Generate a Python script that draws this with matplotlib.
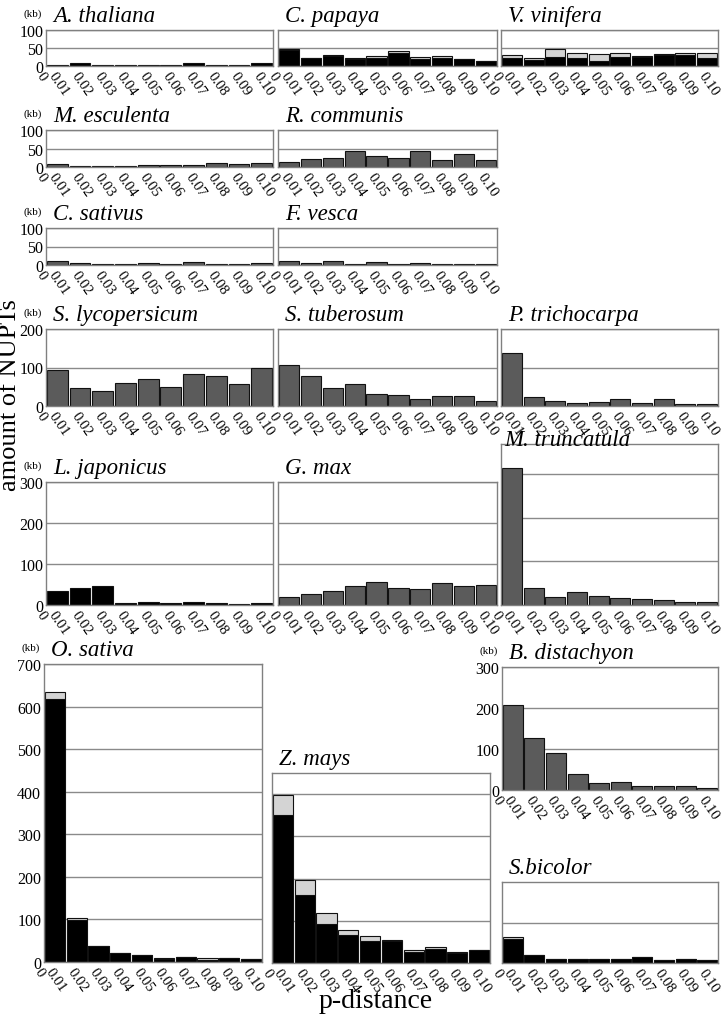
import matplotlib
matplotlib.use('Agg')
import matplotlib.pyplot as plt
import matplotlib.transforms as mtrans

plt.rcParams['font.family'] = ['Liberation Serif', 'DejaVu Serif']

W, H = 724, 1020
edges = ['0', '0.01', '0.02', '0.03', '0.04', '0.05', '0.06', '0.07', '0.08', '0.09', '0.10']

# kb of NUPTs per p-distance bin (black = lower part, grey = upper part)
thaliana = [4, 7, 4, 4, 4, 4, 7, 4, 4, 7]
papaya_b = [44, 23, 28, 20, 23, 35, 20, 23, 20, 14]
papaya_g = [4, 0, 3, 2, 5, 7, 5, 5, 0, 0]
vinifera_b = [23, 17, 25, 23, 14, 26, 24, 31, 31, 21]
vinifera_g = [8, 5, 22, 13, 18, 10, 5, 2, 5, 15]
esculenta = [7, 3, 3, 3, 6, 6, 6, 12, 9, 12]
communis = [14, 22, 25, 42, 29, 25, 42, 19, 34, 19]
sativus = [10, 6, 3, 3, 6, 3, 9, 3, 3, 6]
vesca = [12, 6, 12, 3, 9, 3, 6, 3, 3, 3]
lycopersicum = [93, 46, 38, 61, 69, 49, 84, 79, 58, 98]
tuberosum = [107, 78, 46, 58, 31, 28, 17, 27, 27, 13]
trichocarpa = [138, 24, 12, 8, 11, 17, 8, 19, 5, 5]
japonicus = [35, 42, 47, 6, 8, 6, 8, 6, 3, 6]
gmax = [19, 27, 34, 46, 56, 42, 39, 54, 46, 49]
truncatula = [315, 38, 18, 29, 20, 16, 13, 11, 7, 7]
sativa_b = [618, 98, 38, 20, 16, 6, 12, 5, 10, 7]
sativa_g = [16, 6, 0, 0, 0, 4, 0, 5, 0, 0]
mays_b = [350, 161, 93, 67, 53, 52, 27, 34, 23, 31]
mays_g = [48, 35, 25, 11, 12, 3, 4, 4, 4, 0]
distachyon = [207, 127, 91, 39, 17, 19, 10, 10, 10, 6]
bicolor_b = [59, 19, 9, 11, 9, 9, 14, 7, 9, 7]
bicolor_g = [4, 0, 0, 0, 0, 0, 0, 0, 0, 0]

BLACK = '#000000'
DARK = '#5b5b5b'
LIGHT = '#d4d4d4'

C1 = (46, 273)
C2 = (278, 497)
C3 = (501, 718)

# title, (left, right), top, bottom, ymax, grid values, tick labels?, layers
panels = [
    ('A. thaliana', C1, 31, 67, 100, [50, 100], True, [(thaliana, BLACK)]),
    ('C. papaya', C2, 31, 67, 100, [50, 100], False, [(papaya_b, BLACK), (papaya_g, LIGHT)]),
    ('V. vinifera', C3, 31, 67, 100, [50, 100], False, [(vinifera_b, BLACK), (vinifera_g, LIGHT)]),
    ('M. esculenta', C1, 131, 168, 100, [50, 100], True, [(esculenta, DARK)]),
    ('R. communis', C2, 131, 168, 100, [50, 100], False, [(communis, DARK)]),
    ('C. sativus', C1, 229, 266, 100, [50, 100], True, [(sativus, DARK)]),
    ('F. vesca', C2, 229, 266, 100, [50, 100], False, [(vesca, DARK)]),
    ('S. lycopersicum', C1, 330, 407, 200, [100, 200], True, [(lycopersicum, DARK)]),
    ('S. tuberosum', C2, 330, 407, 200, [100, 200], False, [(tuberosum, DARK)]),
    ('P. trichocarpa', C3, 330, 407, 200, [100, 200], False, [(trichocarpa, DARK)]),
    ('L. japonicus', C1, 483, 606, 300, [100, 200, 300], True, [(japonicus, BLACK)]),
    ('G. max', C2, 483, 606, 300, [100, 200, 300], False, [(gmax, DARK)]),
    ('M. truncatula', C3, 445, 606, 370, [100, 200, 300], False, [(truncatula, DARK)]),
    ('O. sativa', (44, 262), 665, 963, 700, [100, 200, 300, 400, 500, 600, 700], True,
     [(sativa_b, BLACK), (sativa_g, LIGHT)]),
    ('Z. mays', (272, 490), 774, 964, 450, [100, 200, 300, 400], False,
     [(mays_b, BLACK), (mays_g, LIGHT)]),
    ('B. distachyon', (502, 718), 668, 791, 300, [100, 200, 300], True, [(distachyon, DARK)]),
    ('S.bicolor', (502, 718), 883, 964, 200, [100], False, [(bicolor_b, BLACK), (bicolor_g, LIGHT)]),
]

fig = plt.figure(figsize=(W / 100, H / 100), dpi=100)
shift = mtrans.ScaledTranslation(3 / 100, 0, fig.dpi_scale_trans)

for title, (l, r), t, b, ymax, grid, labels, layers in panels:
    ax = fig.add_axes([l / W, 1 - b / H, (r - l) / W, (b - t) / H])
    base = [0] * 10
    for vals, col in layers:
        ax.bar([i + 0.04 for i in range(10)], vals, width=0.92, bottom=base, align='edge',
               color=col, edgecolor='#111111', linewidth=0.8, zorder=2)
        base = [p + v for p, v in zip(base, vals)]
    ax.set_xlim(0, 10)
    ax.set_ylim(0, ymax)
    ax.set_yticks([0] + grid)
    ax.yaxis.grid(True, color='#8a8a8a', linewidth=1.0)
    ax.set_axisbelow(True)
    for s in ax.spines.values():
        s.set_color('#808080')
        s.set_linewidth(1.0)
    ax.tick_params(length=0, pad=2)
    if labels:
        ax.set_yticklabels([str(v) for v in [0] + grid], fontsize=11.5)
        fig.text((l - 23) / W, 1 - (t - 17) / H, '(kb)', fontsize=8, va='center', ha='left')
    else:
        ax.set_yticklabels([])
    ax.set_xticks(range(11))
    ax.set_xticklabels(edges, rotation=-55, ha='right', va='top', fontsize=10.5)
    for lab in ax.get_xticklabels():
        lab.set_transform(lab.get_transform() + shift)
    if title == 'M. truncatula':
        ax.annotate(title, xy=(0, 1), xycoords='axes fraction', xytext=(2, -1),
                    textcoords='offset points', fontsize=16.5, style='italic',
                    ha='left', va='baseline')
    else:
        ax.annotate(title, xy=(0, 1), xycoords='axes fraction', xytext=(5, 3),
                    textcoords='offset points', fontsize=16.5, style='italic',
                    ha='left', va='bottom')

fig.text(10 / W, 1 - 395 / H, 'amount of NUPTs', rotation=90, fontsize=19,
         ha='center', va='center')
fig.text(376 / W, 1 - 1002 / H, 'p-distance', fontsize=20, ha='center', va='center')

fig.savefig('out.png', dpi=100)
